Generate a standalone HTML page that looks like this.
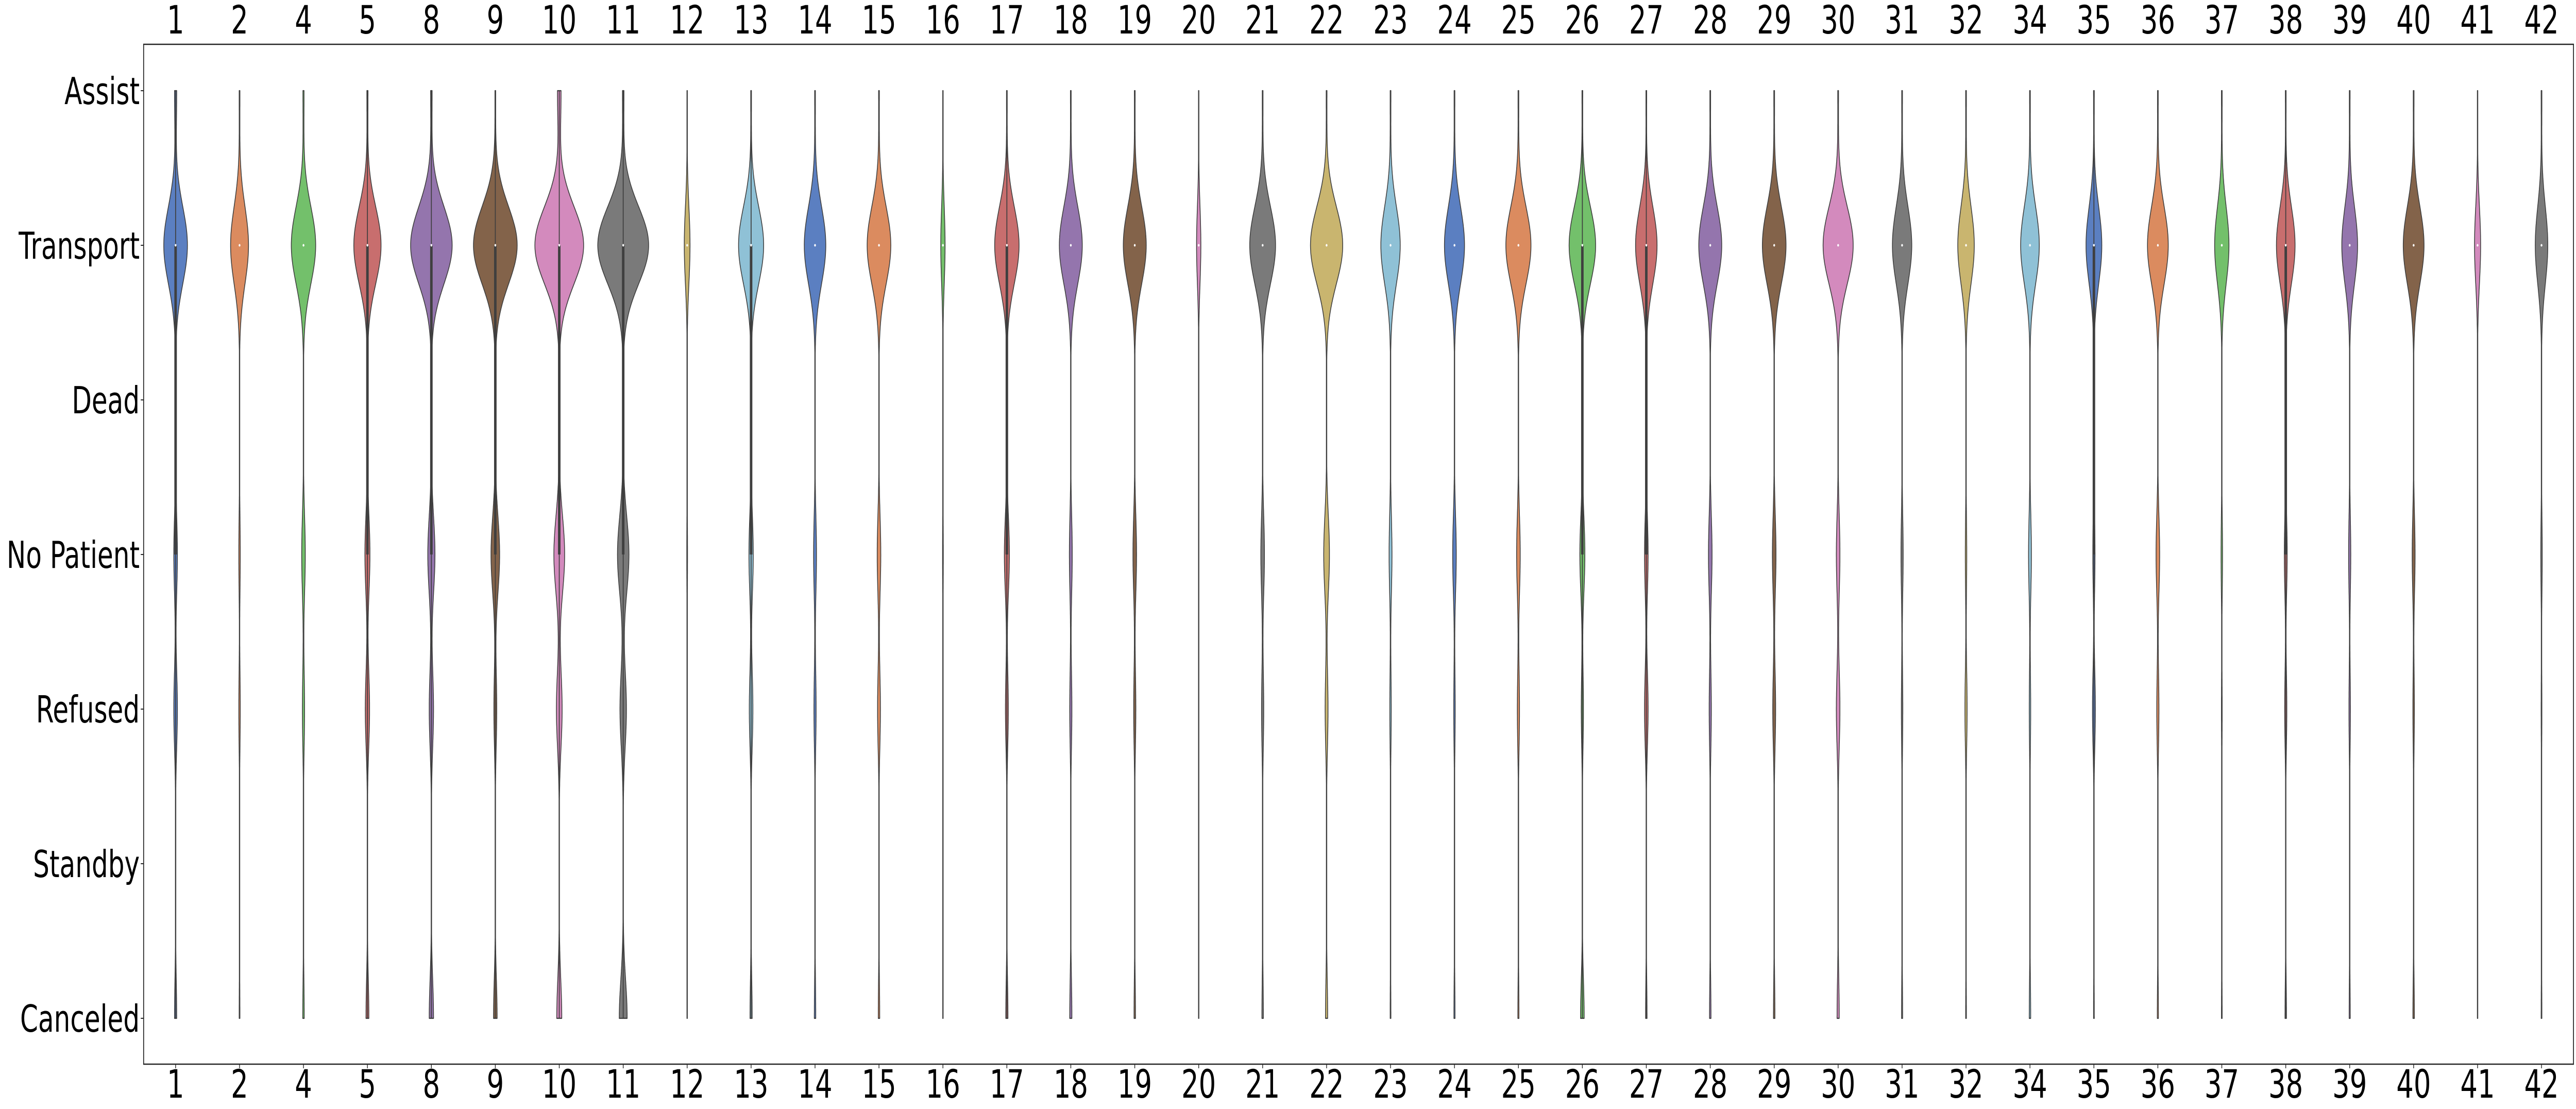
<!DOCTYPE html>
<html><head><meta charset="utf-8"><style>
html,body{margin:0;padding:0;background:#fff;width:100%;height:100%;overflow:hidden;}
svg{display:block;width:100vw;height:100vh;}
text{font-family:"DejaVu Sans","Liberation Sans",sans-serif;fill:#000;}
</style></head><body>
<svg id="chart" viewBox="0 0 7192 2152" preserveAspectRatio="none" xmlns="http://www.w3.org/2000/svg">
<rect x="0" y="0" width="7192" height="2152" fill="#fff"/>
<g id="violins"></g>
<rect x="401" y="86" width="6784" height="1979" fill="none" stroke="#262626" stroke-width="2.5"/>
<g id="axes"></g>
</svg>
<script>
const categories = ["1","2","4","5","8","9","10","11","12","13","14","15","16","17","18","19","20","21","22","23","24","25","26","27","28","29","30","31","32","34","35","36","37","38","39","40","41","42"];
const outcomes = ["Assist","Transport","Dead","No Patient","Refused","Standby","Canceled"];
const assist    = [3,1,1.5,1.5,2,1,5,2,0.5,1,1,1,0.3,1,1,1,0.3,1,1,1,1,1,1,1,1,1,1,1,1,1,1,1,1,1,1,1,0.3,1];
const transport = [33,25,34,38,58,61,68,71,8,35,30,33,6,34,32,32,6,36,45,27,28,35,37,30,32,33,42,27,23,26,22,29,20,26,22,29,8.5,17.5];
const dead      = [0,0,0,0,0,0,0,0,0,0,0,0,0,0,0,0,0,0,0,0,0,0,0,0,0,0,0,0,0,0,0,0,0,0,0,0,0,0];
const noPatient = [5,2,5,7,10,12,15,16,1,6,4,5,1,7,4,5,0.5,5,8,4,5,5,7,5,5,5,5,3,2,4,3,5,2,4,3,4,0.5,2];
const refused   = [5,2,3,6,6,4,8,9,0.5,5,3,4,0.3,4,3,3,0.3,3,4,2,2,3,3,5,3,4,5,2,3,2,4,3,1,3,2,2,0.3,1];
const standby   = [0.3,0.2,0.2,0.3,0.3,0.3,0.5,0.5,0,0.2,0.2,0.2,0,0.2,0.2,0.2,0,0.2,0.2,0.2,0.2,0.2,0.2,0.2,0.2,0.2,0.2,0.2,0.2,0.2,0.2,0.2,0.2,0.2,0.2,0.2,0,0.2];
const canceled  = [3,1,2,4,6,5,7,11,0.5,3,2,2,0.3,3,3,2,0.3,2,3,1,1.5,1.5,5,2,2,2,3,1.5,1,2,1,1.5,1,2,1.5,2,0.3,1];
const palette = ["#5b7fc1","#db8b5f","#73c06b","#c86e6e","#9475ad","#83634a","#d38abd","#7a7a7a","#c9b56f","#8fc1d6"];

const NS="http://www.w3.org/2000/svg";
const L=401,R=7185,T=86,B=2065;
const step=(R-L)/categories.length;
function xScale(i){return L+step*(i+0.5);}
function yScale(v){return 176+300*v;}
const sigma=0.25;
const series=[assist,transport,dead,noPatient,refused,standby,canceled];
let maxPeak=0;
for(let i=0;i<categories.length;i++){for(const s of series){if(s[i]>maxPeak)maxPeak=s[i];}}
const maxHalf=71;
function halfWidth(i,v){let s=0;for(let k=0;k<7;k++){const d=v-k;s+=series[k][i]*Math.exp(-d*d/(2*sigma*sigma));}return s/maxPeak*maxHalf;}
function mk(tag,attrs){const e=document.createElementNS(NS,tag);for(const k in attrs)e.setAttribute(k,attrs[k]);return e;}
const gV=document.getElementById('violins');
for(let i=0;i<categories.length;i++){
  const cx=xScale(i);
  const g=mk('g',{});
  
  
  let left=[],right=[];
  const N=600;
  for(let j=0;j<=N;j++){const v=6*j/N;const w=Math.max(halfWidth(i,v),0.6);const y=yScale(v);right.push((cx+w).toFixed(1)+','+y.toFixed(1));left.unshift((cx-w).toFixed(1)+','+y.toFixed(1));}
  const p=mk('polygon',{points:right.concat(left).join(' '),fill:palette[i%10],stroke:'#3f3f3f','stroke-width':2.2,'stroke-linejoin':'round'});
  
  
  g.appendChild(p);
  const counts=series.map(s=>s[i]);const tot=counts.reduce((a,b)=>a+b,0);
  function q(f){let c=0;for(let k=0;k<7;k++){c+=counts[k];if(c>=f*tot)return k;}return 6;}
  const q1=q(0.25),med=q(0.5),q3=q(0.75);
  const iqr=q3-q1;let lo=6,hi=0;for(let k=0;k<7;k++){if(counts[k]>0){lo=Math.min(lo,k);hi=Math.max(hi,k);}}
  const wLo=Math.max(lo,q1-1.5*iqr),wHi=Math.min(hi,q3+1.5*iqr);
  const wl=mk('line',{x1:cx,x2:cx,y1:yScale(wLo),y2:yScale(wHi),stroke:'#3f3f3f','stroke-width':2.5});
  
  
  g.appendChild(wl);
  if(q3>q1){const bx=mk('line',{x1:cx,x2:cx,y1:yScale(q1),y2:yScale(q3),stroke:'#3f3f3f','stroke-width':7});
  
  
  g.appendChild(bx);}
  const md=mk('circle',{cx:cx,cy:yScale(med),r:2.5,fill:'#fff'});
  
  
  g.appendChild(md);
  gV.appendChild(g);
}
const gA=document.getElementById('axes');
for(let i=0;i<categories.length;i++){
  const cx=xScale(i);
  const tk=mk('line',{x1:cx,x2:cx,y1:B,y2:B+8,stroke:'#262626','stroke-width':2});
  
  
  gA.appendChild(tk);
  const t1=mk('text',{x:cx,y:65,'font-size':76,'text-anchor':'middle'});t1.textContent=categories[i];
  
  
  gA.appendChild(t1);
  const t2=mk('text',{x:cx,y:2130,'font-size':76,'text-anchor':'middle'});t2.textContent=categories[i];
  
  
  gA.appendChild(t2);
}
for(let k=0;k<outcomes.length;k++){
  const y=yScale(k);
  const tk=mk('line',{x1:L-8,x2:L,y1:y,y2:y,stroke:'#262626','stroke-width':2});
  
  
  gA.appendChild(tk);
  const t=mk('text',{x:390,y:y+26,'font-size':72,'text-anchor':'end'});t.textContent=outcomes[k];
  
  
  gA.appendChild(t);
}
</script>
</body></html>
